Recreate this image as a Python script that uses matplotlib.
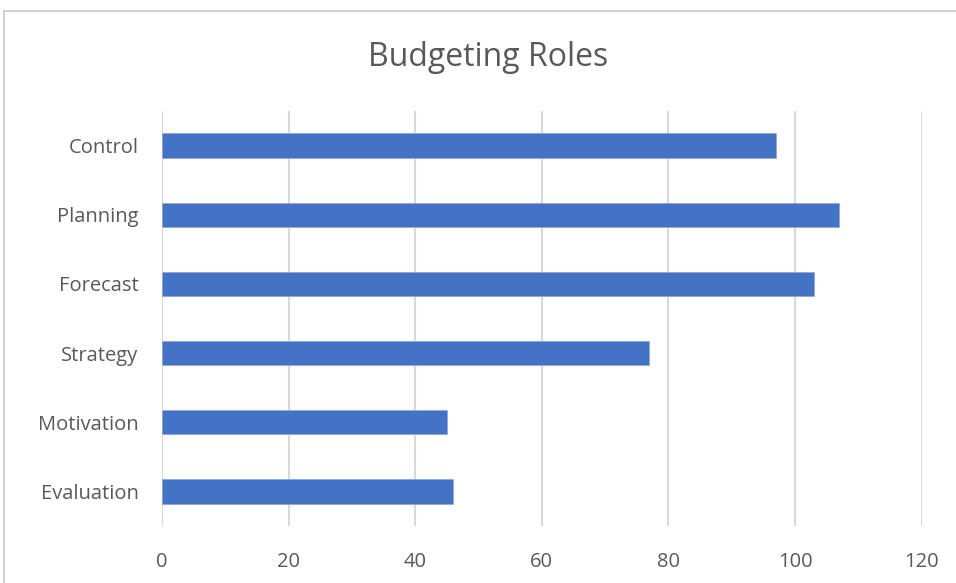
import matplotlib
matplotlib.use("Agg")
import matplotlib.pyplot as plt
from matplotlib.lines import Line2D

categories = ["Control", "Planning", "Forecast", "Strategy", "Motivation", "Evaluation"]
values = [97, 107, 103, 77, 45, 46]
x_ticks = [0, 20, 40, 60, 80, 100, 120]

plt.rcParams["font.family"] = ["Open Sans", "DejaVu Sans"]

fig = plt.figure(figsize=(9.56, 5.83), dpi=100)
W, H = 956, 583
ax = fig.add_axes([162 / W, 1 - 526 / H, (921.7 - 162) / W, (526 - 111) / H])

ypos = list(range(len(categories)))
ax.barh(ypos, values, height=0.35, color="#4472c4", edgecolor="#8faadc",
        linewidth=0.6, zorder=3)

ax.set_xlim(0, 120)
ax.set_ylim(len(categories) - 0.5, -0.5)
ax.set_xticks(x_ticks)
ax.set_xticklabels([str(t) for t in x_ticks])
ax.set_yticks(ypos)
ax.set_yticklabels(categories)

ax.grid(axis="x", color="#d9d9d9", linewidth=1.5, zorder=0)
ax.grid(axis="y", visible=False)
for s in ax.spines.values():
    s.set_visible(False)
ax.tick_params(axis="both", length=0, colors="#595959")
ax.tick_params(axis="x", pad=19, labelsize=14.5)
ax.tick_params(axis="y", pad=17, labelsize=14.5)

fig.text(488 / W, 1 - 57 / H, "Budgeting Roles", ha="center", va="center",
         fontsize=23, color="#595959")

# chart area border
fig.add_artist(Line2D([4 / W, 4 / W], [0, 1 - 11 / H], transform=fig.transFigure,
                      color="#c8c8c8", linewidth=1.2))
fig.add_artist(Line2D([4 / W, 1], [1 - 11 / H, 1 - 11 / H], transform=fig.transFigure,
                      color="#c8c8c8", linewidth=1.2))

fig.savefig("out.png", dpi=100, facecolor="white")
